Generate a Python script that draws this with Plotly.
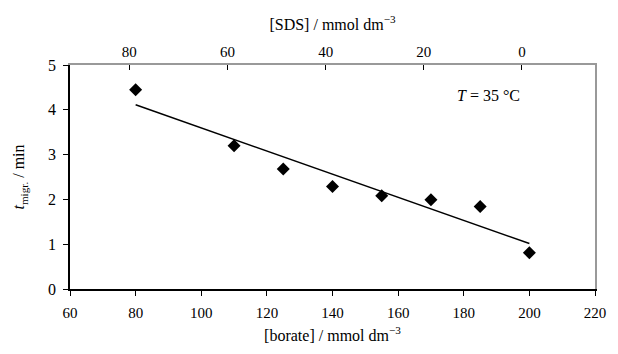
import numpy as np
import plotly.graph_objects as go

# Data
borate = [80, 110, 125, 140, 155, 170, 185, 200]          # mmol dm^-3
t_migr = [4.45, 3.20, 2.68, 2.29, 2.08, 1.99, 1.84, 0.81]  # min
sds_ticks = [80, 60, 40, 20, 0]                            # top axis ticks
borate_ticks = [60, 80, 100, 120, 140, 160, 180, 200, 220]
y_ticks = [0, 1, 2, 3, 4, 5]

# Linear trendline (least squares fit of the data)
slope, intercept = np.polyfit(borate, t_migr, 1)
fit_x = [min(borate), max(borate)]
fit_y = [slope * v + intercept for v in fit_x]

FONT = "Liberation Serif"

fig = go.Figure()
fig.add_trace(go.Scatter(
    x=fit_x, y=fit_y, mode="lines",
    line=dict(color="black", width=1.5), showlegend=False, hoverinfo="skip"))
fig.add_trace(go.Scatter(
    x=borate, y=t_migr, mode="markers",
    marker=dict(symbol="diamond", size=10, color="black"),
    showlegend=False))
# invisible traces so the top and right axes are drawn
fig.add_trace(go.Scatter(
    x=sds_ticks, y=[None] * len(sds_ticks), xaxis="x2", mode="markers",
    showlegend=False, hoverinfo="skip"))
fig.add_trace(go.Scatter(x=[None], y=[None], yaxis="y2", showlegend=False,
                         hoverinfo="skip"))

fig.update_layout(
    width=618, height=354,
    margin=dict(l=70, r=12, t=65, b=55),
    paper_bgcolor="white", plot_bgcolor="white",
    font=dict(family=FONT, size=15, color="black"),
    xaxis=dict(
        range=[60, 220], tickvals=borate_ticks,
        showgrid=False, zeroline=False,
        showline=True, linecolor="black", linewidth=1.5,
        ticks="outside", ticklen=5, tickcolor="black", tickwidth=1,
        ticklabelstandoff=4,
        tickfont=dict(family=FONT, size=15),
        title=dict(text="[borate] / mmol dm<sup>−3</sup>",
                   font=dict(family=FONT, size=16), standoff=10),
    ),
    xaxis2=dict(
        overlaying="x", side="top", anchor="y",
        range=[92.1, -14.9], tickvals=sds_ticks,
        showgrid=False, zeroline=False,
        showline=True, linecolor="#999999", linewidth=1.5,
        ticks="inside", ticklen=5, tickcolor="black", tickwidth=1,
        tickfont=dict(family=FONT, size=15),
        title=dict(text="[SDS] / mmol dm<sup>−3</sup>",
                   font=dict(family=FONT, size=16), standoff=10),
    ),
    yaxis=dict(
        range=[0, 5], tickvals=y_ticks,
        showgrid=False, zeroline=False,
        showline=True, linecolor="black", linewidth=1.5,
        ticks="outside", ticklen=5, tickcolor="black", tickwidth=1,
        ticklabelstandoff=4,
        tickfont=dict(family=FONT, size=16),
        title=dict(text="<i>t</i><sub>migr.</sub> / min",
                   font=dict(family=FONT, size=16), standoff=19),
    ),
    yaxis2=dict(
        overlaying="y", side="right", range=[0, 5],
        showline=True, linecolor="#999999", linewidth=1.5,
        showticklabels=False, ticks="", showgrid=False, zeroline=False,
    ),
    annotations=[dict(
        x=0.798, y=0.863, xref="paper", yref="paper",
        text="<i>T</i> = 35 °C", showarrow=False,
        font=dict(family=FONT, size=16, color="black"),
        xanchor="center", yanchor="middle")],
)

fig.write_html(
    "out.html",
    config={"displayModeBar": False},
    post_script="document.body.style.margin='0';"
                "document.body.style.overflow='hidden';",
)
